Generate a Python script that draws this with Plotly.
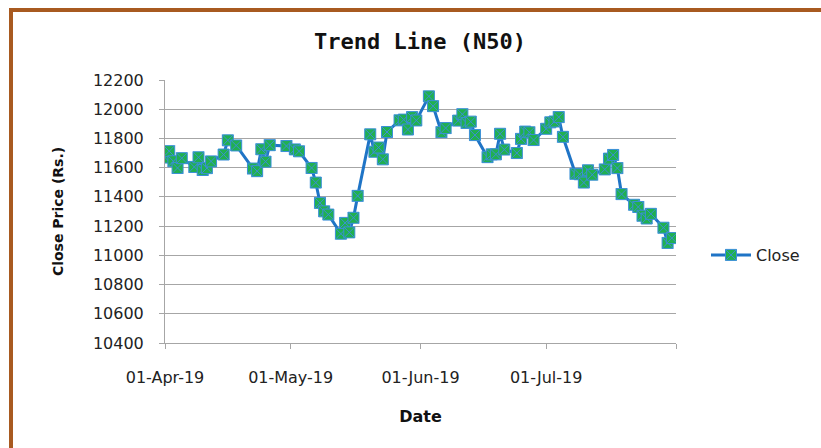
import plotly.graph_objects as go

dates = ["2019-04-01","2019-04-02","2019-04-03","2019-04-04","2019-04-05","2019-04-08","2019-04-09","2019-04-10",
         "2019-04-11","2019-04-12","2019-04-15","2019-04-16","2019-04-18","2019-04-22","2019-04-23","2019-04-24",
         "2019-04-25","2019-04-26","2019-04-30","2019-05-02","2019-05-03","2019-05-06","2019-05-07","2019-05-08",
         "2019-05-09","2019-05-10","2019-05-13","2019-05-14","2019-05-15","2019-05-16","2019-05-17","2019-05-20",
         "2019-05-21","2019-05-22","2019-05-23","2019-05-24","2019-05-27","2019-05-28","2019-05-29","2019-05-30",
         "2019-05-31","2019-06-03","2019-06-04","2019-06-06","2019-06-07","2019-06-10","2019-06-11","2019-06-12",
         "2019-06-13","2019-06-14","2019-06-17","2019-06-18","2019-06-19","2019-06-20","2019-06-21","2019-06-24",
         "2019-06-25","2019-06-26","2019-06-27","2019-06-28","2019-07-01","2019-07-02","2019-07-03","2019-07-04",
         "2019-07-05","2019-07-08","2019-07-09","2019-07-10","2019-07-11","2019-07-12","2019-07-15","2019-07-16",
         "2019-07-17","2019-07-18","2019-07-19","2019-07-22","2019-07-23","2019-07-24","2019-07-25","2019-07-26",
         "2019-07-29","2019-07-30","2019-07-31"]
close = [11669, 11713, 11644, 11598, 11665, 11605, 11671, 11584,
         11597, 11643, 11690, 11787, 11752, 11594, 11576, 11726,
         11641, 11754, 11748, 11725, 11712, 11598, 11498, 11359,
         11301, 11279, 11148, 11222, 11157, 11257, 11407, 11828,
         11709, 11738, 11657, 11844, 11924, 11929, 11861, 11946,
         11923, 12088, 12021, 11843, 11871, 11922, 11966, 11906,
         11915, 11823, 11672, 11691, 11691, 11832, 11724, 11700,
         11797, 11847, 11842, 11789, 11866, 11910, 11916, 11946,
         11811, 11558, 11555, 11498, 11582, 11552, 11588, 11662,
         11687, 11597, 11419, 11346, 11331, 11271, 11252, 11284,
         11189, 11085, 11118]

x_tickvals = ["2019-04-01", "2019-05-01", "2019-06-01", "2019-07-01", "2019-08-01"]
x_ticktext = ["01-Apr-19", "01-May-19", "01-Jun-19", "01-Jul-19", ""]
y_tickvals = [10400, 10600, 10800, 11000, 11200, 11400, 11600, 11800, 12000, 12200]
y_ticktext = [str(v) for v in y_tickvals]

fig = go.Figure()
fig.add_trace(go.Scatter(
    x=dates, y=close, name="Close", mode="lines+markers",
    line=dict(color="#1F74C6", width=3),
    marker=dict(symbol="square-x", size=11, color="#20B050",
                line=dict(color="#3A8FD8", width=1)),
))

L, R, T, B = 165, 145, 80, 105
W, H = 821, 448
pw, ph = W - L - R, H - T - B

def px(x):
    return (x - L) / pw

def py(y):
    return (H - B - y) / ph

fig.update_layout(
    width=W, height=H,
    margin=dict(l=L, r=R, t=T, b=B),
    paper_bgcolor="white", plot_bgcolor="white",
    title=dict(text="<b>Trend Line (N50)</b>", x=px(420), xref="paper", xanchor="center",
               y=1 - 41 / H, yanchor="middle",
               font=dict(family="DejaVu Sans Mono", size=22, color="#111111")),
    showlegend=True,
    legend=dict(x=px(706), y=py(255), xanchor="left", yanchor="middle",
                font=dict(family="DejaVu Sans", size=16, color="#222222"),
                bgcolor="rgba(0,0,0,0)", itemwidth=40),
    xaxis=dict(
        type="date", range=["2019-04-01", "2019-08-01"],
        tickmode="array", tickvals=x_tickvals, ticktext=x_ticktext,
        showgrid=False, showline=True, linecolor="#A6A6A6", linewidth=1,
        ticks="outside", ticklen=5, tickcolor="#A6A6A6",
        ticklabelstandoff=15,
        tickfont=dict(family="DejaVu Sans", size=16, color="#222222"),
        title=dict(text="<b>Date</b>", standoff=24,
                   font=dict(family="DejaVu Sans", size=16, color="#111111")),
        zeroline=False,
    ),
    yaxis=dict(
        range=[10400, 12200], tickmode="array", tickvals=y_tickvals, ticktext=y_ticktext,
        showgrid=True, gridcolor="#A6A6A6", gridwidth=1,
        showline=True, linecolor="#A6A6A6", linewidth=1,
        ticks="outside", ticklen=5, tickcolor="#A6A6A6",
        ticklabelstandoff=12,
        tickfont=dict(family="DejaVu Sans", size=16, color="#222222"),
        title=dict(text="<b>Close Price (Rs.)</b>", standoff=25,
                   font=dict(family="DejaVu Sans", size=14, color="#111111")),
        zeroline=False,
    ),
    shapes=[dict(type="rect", xref="paper", yref="paper",
                 x0=px(11), x1=px(840), y0=py(470), y1=py(10),
                 line=dict(color="#A85A20", width=4), fillcolor="rgba(0,0,0,0)",
                 layer="above")],
)

fig.write_html("out.html", config={"displayModeBar": False},
               post_script="document.body.style.margin='0';")
